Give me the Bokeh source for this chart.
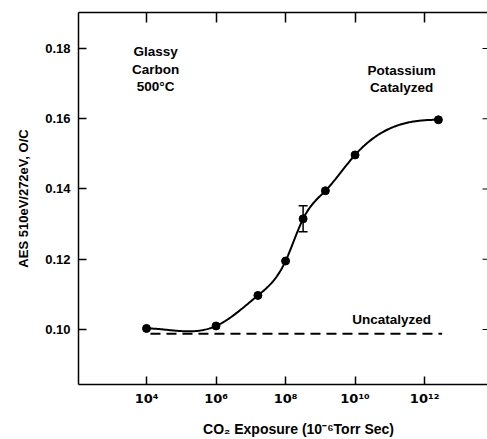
import numpy as np
from bokeh.plotting import figure
from bokeh.models import (Range1d, FixedTicker, LogAxis, ColumnDataSource,
                          CustomJSTickFormatter, NumeralTickFormatter, Whisker, TeeHead)
from bokeh.core.properties import value
from bokeh.embed import file_html
from bokeh.resources import INLINE

# CO2 exposure (10^-6 Torr s) and the AES O/C ratio
exposure = [1e4, 1e6, 1.6e7, 1e8, 3.2e8, 1.4e9, 1e10, 2.5e12]
oc_catalyzed = [0.1003, 0.1010, 0.1097, 0.1195, 0.1315, 0.1395, 0.1497, 0.1597]

# spread on the 3.2e8 measurement
err_exposure = [3.2e8]
err_low = [0.1278]
err_high = [0.1352]

# uncatalyzed surface stays flat
uncat_exposure = [1.3e4, 3.2e12]
oc_uncatalyzed = [0.0988, 0.0988]

x_ticks = [1e4, 1e6, 1e8, 1e10, 1e12]
y_ticks = [0.10, 0.12, 0.14, 0.16, 0.18]

FONT = "Liberation Sans"


def cubic_spline(x, y, xs, start_slope=0.0, end_slope=0.0):
    """Cubic spline clamped to the given slopes at both ends."""
    x = np.asarray(x, float)
    y = np.asarray(y, float)
    n = len(x)
    h = np.diff(x)
    A = np.zeros((n, n))
    b = np.zeros(n)
    A[0, 0] = 2 * h[0]
    A[0, 1] = h[0]
    b[0] = 6 * ((y[1] - y[0]) / h[0] - start_slope)
    for i in range(1, n - 1):
        A[i, i - 1] = h[i - 1]
        A[i, i] = 2 * (h[i - 1] + h[i])
        A[i, i + 1] = h[i]
        b[i] = 6 * ((y[i + 1] - y[i]) / h[i] - (y[i] - y[i - 1]) / h[i - 1])
    A[n - 1, n - 2] = h[-1]
    A[n - 1, n - 1] = 2 * h[-1]
    b[n - 1] = 6 * (end_slope - (y[-1] - y[-2]) / h[-1])
    M = np.linalg.solve(A, b)
    out = np.empty_like(xs)
    for k, t in enumerate(xs):
        i = min(max(np.searchsorted(x, t) - 1, 0), n - 2)
        a, c = x[i], x[i + 1]
        hi = c - a
        out[k] = (M[i] * (c - t) ** 3 / (6 * hi) + M[i + 1] * (t - a) ** 3 / (6 * hi)
                  + (y[i] / hi - M[i] * hi / 6) * (c - t)
                  + (y[i + 1] / hi - M[i + 1] * hi / 6) * (t - a))
    return out


lx = np.log10(exposure)
curve_lx = np.linspace(lx[0], lx[-1], 300)
curve_y = cubic_spline(lx, oc_catalyzed, curve_lx)

x_range = Range1d(10 ** 2.043, 10 ** 13.81)
y_range = Range1d(0.08434, 0.19025)

p = figure(width=487, height=439, x_axis_type="log",
           x_range=x_range, y_range=y_range,
           output_backend="svg", toolbar_location=None,
           min_border_left=78, min_border_right=0,
           min_border_top=12, min_border_bottom=55)
p.grid.visible = False
p.outline_line_color = None
p.background_fill_color = "white"
p.border_fill_color = "white"

sup_js = """
const sup = {"0":"\u2070","1":"\u00b9","2":"\u00b2","3":"\u00b3","4":"\u2074",
             "5":"\u2075","6":"\u2076","7":"\u2077","8":"\u2078","9":"\u2079"};
const e = Math.round(Math.log10(tick));
return "10" + String(e).split("").map(c => sup[c]).join("");
"""
blank = CustomJSTickFormatter(code="return ' ';")

xa = p.xaxis[0]
xa.ticker = FixedTicker(ticks=x_ticks)
xa.formatter = CustomJSTickFormatter(code=sup_js)
xa.axis_label = "\u00a0" * 8 + "CO\u2082 Exposure (10\u207b\u2076Torr Sec)"
xa.bounds = (x_range.start, x_range.end)

ya = p.yaxis[0]
ya.ticker = FixedTicker(ticks=y_ticks)
ya.formatter = NumeralTickFormatter(format="0.00")
ya.axis_label = "AES 510eV/272eV, O/C"
ya.bounds = (y_range.start, y_range.end)

for ax in (xa, ya):
    ax.major_tick_in = 8
    ax.major_tick_out = 0
    ax.minor_tick_line_color = None
    ax.axis_line_width = 1.5
    ax.major_tick_line_width = 1.5
    ax.major_label_text_font = FONT
    ax.major_label_text_font_style = "bold"
    ax.major_label_text_font_size = "13px"
    ax.major_label_text_color = "black"
    ax.axis_label_text_font = FONT
    ax.axis_label_text_font_style = "bold"
    ax.axis_label_text_color = "black"
xa.major_label_text_font = "DejaVu Sans"
xa.major_label_text_font_size = "13px"
xa.axis_label_text_font_size = "14px"
ya.axis_label_text_font_size = "13px"
xa.major_label_standoff = 6
xa.axis_label_standoff = 12
ya.major_label_standoff = 8
ya.axis_label_standoff = 11

top = LogAxis(ticker=FixedTicker(ticks=x_ticks), formatter=blank,
              bounds=(x_range.start, x_range.end),
              major_tick_in=10, major_tick_out=0,
              minor_tick_line_color=None, axis_line_width=1.5, major_tick_line_width=1.5,
              major_label_text_font_size="1px", major_label_standoff=0)
p.add_layout(top, "above")

# short inward ticks along the open right-hand edge (outer half is clipped by the frame)
p.scatter(x=[x_range.end] * len(y_ticks), y=y_ticks, marker="dash", size=10,
          line_color="black", line_width=1.2)

# fitted curve and measurements
p.line(10 ** curve_lx, curve_y, line_color="black", line_width=2)
p.scatter(exposure, oc_catalyzed, size=8, color="black")

err_src = ColumnDataSource(dict(x=err_exposure, lo=err_low, hi=err_high))
p.add_layout(Whisker(base="x", lower="lo", upper="hi", source=err_src, dimension="height",
                     line_color="black", line_width=1.5,
                     upper_head=TeeHead(size=9, line_width=1.5),
                     lower_head=TeeHead(size=9, line_width=1.5)))

p.line(uncat_exposure, oc_uncatalyzed, line_color="black", line_width=2, line_dash="10 6")

# annotations
notes = [
    (10 ** 4.26, 0.1812, "Glassy\nCarbon\n500\u00b0C", "top"),
    (10 ** 11.34, 0.1760, "Potassium\nCatalyzed", "top"),
    (10 ** 11.05, 0.1028, "Uncatalyzed", "middle"),
]
for nx, ny, txt, base in notes:
    p.text(x=[nx], y=[ny], text=[txt], text_align="center", text_baseline=base,
           text_font=value(FONT), text_font_style="bold", text_font_size="13.5px",
           text_line_height=1.15, text_color="black")

open("out.html", "w", encoding="utf-8").write(file_html(p, INLINE))
